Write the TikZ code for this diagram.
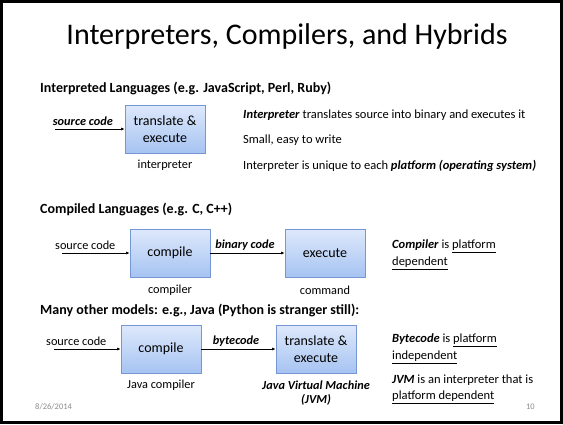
\documentclass[tikz,border=0pt]{standalone}
\usepackage{fontspec}
\setmainfont{Carlito}
\usetikzlibrary{arrows.meta,shadows}
\definecolor{boxtop}{RGB}{222,233,251}
\definecolor{boxbot}{RGB}{166,195,242}
\definecolor{boxline}{RGB}{118,150,212}
\definecolor{foot}{RGB}{140,140,140}
\begin{document}
\begin{tikzpicture}[x=1pt,y=-1pt,
  blk/.style={draw=boxline, line width=0.8pt, top color=boxtop, bottom color=boxbot,
    minimum width=80pt, minimum height=48pt, inner sep=0pt, align=center,
    font=\fontsize{14}{17}\selectfont,
    drop shadow={opacity=0.18,shadow xshift=1pt,shadow yshift=-1.2pt}},
  txt/.style={inner sep=0pt, font=\fontsize{12.3}{14}\selectfont},
  lt/.style={inner sep=0pt, anchor=west, font=\fontsize{12.5}{14}\selectfont},
  hdr/.style={inner sep=0pt, anchor=west, font=\fontsize{14}{16}\selectfont\bfseries},
  arr/.style={-{Latex[length=3.5pt,width=3pt]}, line width=0.6pt},
  foottxt/.style={inner sep=0pt, text=foot, font=\fontsize{8.5}{10}\selectfont}]
\useasboundingbox (0,0) rectangle (563,424);
\fill[white] (0,0) rectangle (563,424);
\draw[line width=3pt] (1.5,1.5) rectangle (561.5,422.5);

\node[inner sep=0pt, font=\fontsize{30}{35}\selectfont] (title) at (287,36) {Interpreters, Compilers, and Hybrids};

% Row 1
\node[hdr] (h1) at (40,88) {Interpreted Languages (e.g. JavaScript, Perl, Ruby)};
\node[blk] (te1) at (165,129) {translate \&\\execute};
\node[txt] (lint) at (165,165) {interpreter};
\node[txt, anchor=east] (src1) at (113,121) {\textbf{\textit{source code}}};
\coordinate (s1) at (55,129);
\draw[arr] (s1) -- (te1.west);
\node[lt] (r1a) at (243,115) {\textbf{\textit{Interpreter}} translates source into binary and executes it};
\node[lt] (r1b) at (243,140) {Small, easy to write};
\node[lt] (r1c) at (243,166) {Interpreter is unique to each \textbf{\textit{platform (operating system)}}};

% Row 2
\node[hdr] (h2) at (40,209) {Compiled Languages (e.g. C, C++)};
\node[blk] (comp2) at (170,253) {compile};
\node[blk] (exec2) at (325,253) {execute};
\node[txt, anchor=west] (src2) at (55,245) {source code};
\coordinate (s2) at (62,253);
\draw[arr] (s2) -- (comp2.west);
\draw[arr] (comp2.east) -- (exec2.west);
\node[txt] (bin) at (245,245) {\textbf{\textit{binary code}}};
\node[txt] (lcomp) at (170,290) {compiler};
\node[txt] (lcmd) at (325,290) {command};
\node[lt] (r2a) at (392,246) {\textbf{\textit{Compiler}} is \underline{platform}};
\node[lt] (r2b) at (392,263) {\underline{dependent}};

% Row 3
\node[hdr] (h3) at (40,310) {Many other models: e.g., Java (Python is stranger still):};
\node[blk] (comp3) at (161,349) {compile};
\node[blk] (te3) at (316,349) {translate \&\\execute};
\node[txt, anchor=west] (src3) at (46,341) {source code};
\coordinate (s3) at (54,349);
\draw[arr] (s3) -- (comp3.west);
\draw[arr] (comp3.east) -- (te3.west);
\node[txt] (bc) at (236,341) {\textbf{\textit{bytecode}}};
\node[txt] (ljc) at (161,385) {Java compiler};
\node[txt, align=center] (ljvm) at (316,393) {\textbf{\textit{Java Virtual Machine}}\\\textbf{\textit{(JVM)}}};
\node[lt] (r3a) at (392,340) {\textbf{\textit{Bytecode}} is \underline{platform}};
\node[lt] (r3b) at (392,357) {\underline{independent}};
\node[lt] (r3c) at (392,380) {\textbf{\textit{JVM}} is an interpreter that is};
\node[lt] (r3d) at (392,397) {\underline{platform dependent}};

\node[foottxt, anchor=west] (date) at (35,407) {8/26/2014};
\node[foottxt, anchor=east] (pg) at (535,407) {10};
\end{tikzpicture}
\end{document}
